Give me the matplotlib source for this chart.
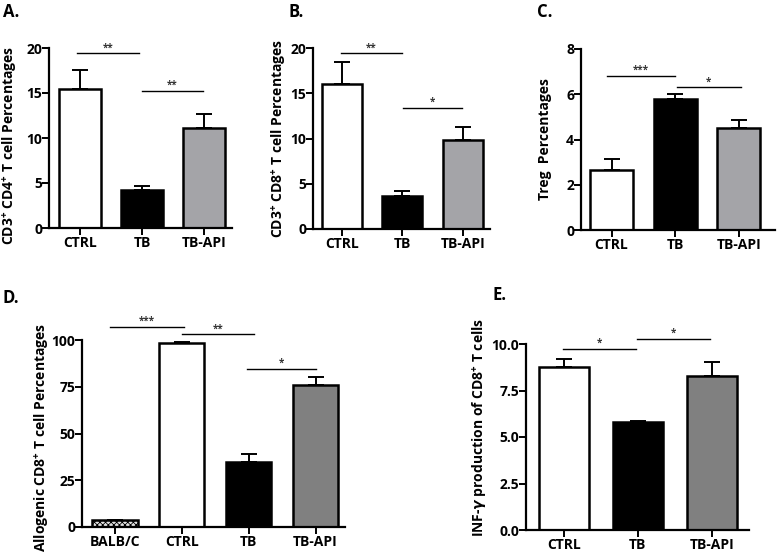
import numpy as np
import matplotlib
matplotlib.use('Agg')
import matplotlib.pyplot as plt

plt.rcParams['font.family'] = ['Open Sans', 'DejaVu Sans']
plt.rcParams['font.weight'] = 'bold'
plt.rcParams['mathtext.fontset'] = 'custom'
plt.rcParams['mathtext.bf'] = 'Open Sans:bold'
plt.rcParams['mathtext.rm'] = 'Open Sans:bold'
plt.rcParams['mathtext.it'] = 'DejaVu Sans:italic:bold'
plt.rcParams['mathtext.default'] = 'bf'
plt.rcParams['hatch.color'] = '#555555'
plt.rcParams['hatch.linewidth'] = 0.6

# Panel A: CD3+ CD4+
a_cats = ['CTRL', 'TB', 'TB-API']
a_vals = [15.5, 4.2, 11.1]
a_errs = [17.6, 4.7, 12.7]

# Panel B: CD3+ CD8+
b_cats = ['CTRL', 'TB', 'TB-API']
b_vals = [16.0, 3.6, 9.8]
b_errs = [18.4, 4.2, 11.3]

# Panel C: Treg
c_cats = ['CTRL', 'TB', 'TB-API']
c_vals = [2.65, 5.8, 4.5]
c_errs = [3.15, 6.0, 4.85]

# Panel D: allogenic CD8+
d_cats = ['BALB/C', 'CTRL', 'TB', 'TB-API']
d_vals = [3.5, 98.5, 35.0, 76.0]
d_errs = [3.8, 99.0, 39.0, 80.0]

# Panel E: INF-gamma
e_cats = ['CTRL', 'TB', 'TB-API']
e_vals = [8.75, 5.8, 8.3]
e_errs = [9.2, 5.85, 9.05]

W, H = 778, 553
fig = plt.figure(figsize=(W / 100, H / 100), dpi=100)


def panel(box, cats, vals, errs, colors, ylim, yticks, yticklabels, xlim, width,
          ylabel, labx, sig, hatches=None, laby=0.5):
    l, r, t, b = box
    ax = fig.add_axes([l / W, (H - b) / H, (r - l) / W, (b - t) / H])
    x = np.arange(len(cats))
    ax.bar(x, vals, width=width, color=colors, edgecolor='black', linewidth=1.8,
           hatch=hatches, zorder=2)
    up = np.array(errs) - np.array(vals)
    ax.errorbar(x, vals, yerr=[np.zeros(len(vals)), up], fmt='none', ecolor='black',
                elinewidth=1.4, capsize=6, capthick=1.4, zorder=1)
    for x0, x1, y, s in sig:
        ax.plot([x0, x1], [y, y], color='black', lw=1.0, clip_on=False)
        ax.text((x0 + x1) / 2, y, s, ha='center', va='bottom', fontsize=7,
                color='#333333')
    ax.set_ylim(*ylim)
    ax.set_xlim(*xlim)
    ax.set_yticks(yticks)
    ax.set_yticklabels(yticklabels, fontsize=10, fontweight='bold')
    ax.set_xticks(x)
    ax.set_xticklabels(cats, fontsize=10, fontweight='bold')
    for s in ['top', 'right']:
        ax.spines[s].set_visible(False)
    for s in ['left', 'bottom']:
        ax.spines[s].set_linewidth(1.6)
    ax.tick_params(axis='both', width=1.4, length=5, pad=1)
    ax.tick_params(axis='y', pad=0)
    ax.set_ylabel(ylabel, fontsize=10, fontweight='bold', va='center')
    ax.yaxis.set_label_coords(-labx / (r - l), laby)
    return ax


panel((49, 232, 48, 228), a_cats, a_vals, a_errs, ['white', 'black', '#a4a4a8'],
      (0, 20), [0, 5, 10, 15, 20], ['0', '5', '10', '15', '20'], (-0.5, 2.45), 0.68,
      r'CD3$^{+}$ CD4$^{+}$ T cell Percentages', 39,
      [(-0.05, 0.95, 19.4, '**'), (1.0, 1.98, 15.2, '**')], laby=0.46)

panel((313, 490, 48, 229), b_cats, b_vals, b_errs, ['white', 'black', '#a4a4a8'],
      (0, 20), [0, 5, 10, 15, 20], ['0', '5', '10', '15', '20'], (-0.48, 2.45), 0.66,
      r'CD3$^{+}$ CD8$^{+}$ T cell Percentages', 34,
      [(-0.02, 0.99, 19.4, '**'), (1.01, 1.99, 13.4, '*')])

panel((581, 775, 49, 230), c_cats, c_vals, c_errs, ['white', 'black', '#a4a4a8'],
      (0, 8), [0, 2, 4, 6, 8], ['0', '2', '4', '6', '8'], (-0.48, 2.57), 0.68,
      'Treg  Percentages', 36,
      [(-0.07, 1.0, 6.8, '***'), (1.03, 2.03, 6.3, '*')])

panel((82, 345, 340, 527), d_cats, d_vals, d_errs, ['#e0e0e0', 'white', 'black', '#808080'],
      (0, 100), [0, 25, 50, 75, 100], ['0', '25', '50', '75', '100'], (-0.49, 3.44), 0.68,
      r'Allogenic CD8$^{+}$ T cell Percentages', 40,
      [(-0.07, 1.03, 107, '***'), (1.0, 2.08, 103, '**'), (1.98, 3.01, 84.5, '*')],
      hatches=['xxxxxx', None, None, None], laby=0.48)

panel((526, 749, 344, 530), e_cats, e_vals, e_errs, ['white', 'black', '#808080'],
      (0, 10), [0, 2.5, 5, 7.5, 10], ['0.0', '2.5', '5.0', '7.5', '10.0'], (-0.51, 2.50), 0.68,
      r'INF-$\mathit{\gamma}$ production of CD8$^{+}$ T cells', 46,
      [(-0.01, 0.97, 9.73, '*'), (0.99, 1.97, 10.27, '*')], laby=0.55)

for lab, px, py in [('A.', 3, 12), ('B.', 289, 12), ('C.', 537, 12),
                    ('D.', 3, 298), ('E.', 492, 295)]:
    fig.text(px / W, 1 - py / H, lab, fontsize=12, fontweight='bold', va='center', ha='left')

fig.savefig('out.png', dpi=100)
